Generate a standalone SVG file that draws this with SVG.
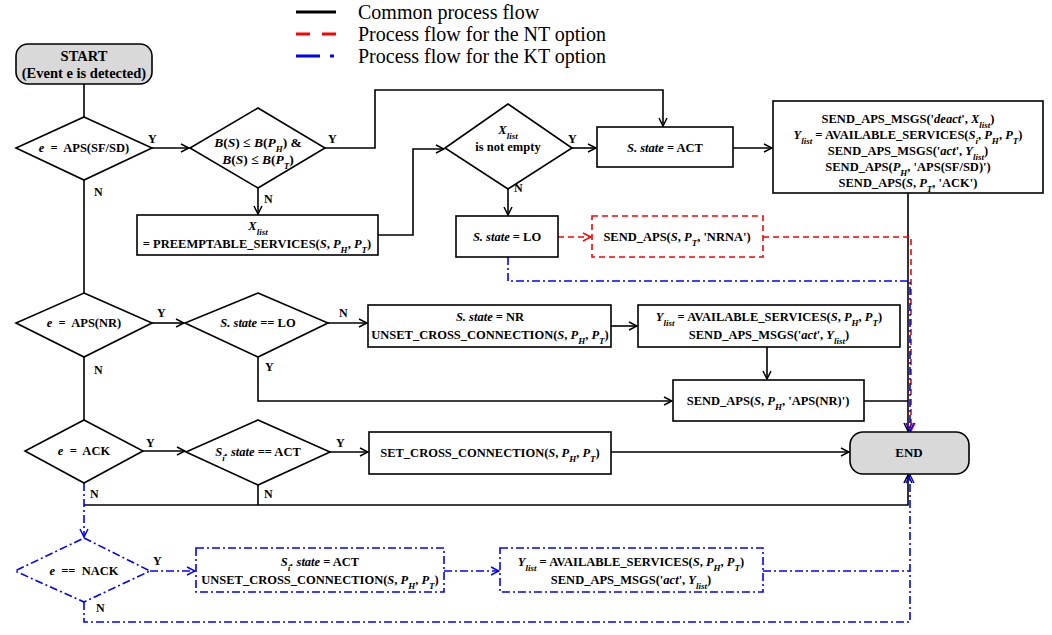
<svg xmlns="http://www.w3.org/2000/svg" width="1052" height="635" viewBox="0 0 1052 635">
<style>
.t{font-family:"Liberation Serif","Times New Roman",serif;font-weight:bold;font-size:12.5px;text-anchor:middle;fill:#000}
.lg{font-family:"Liberation Serif","Times New Roman",serif;font-size:20px;fill:#000}
.i{font-style:italic}
.sub{font-size:9px;baseline-shift:sub}
.lb{font-family:"Liberation Serif","Times New Roman",serif;font-weight:bold;font-size:12px;fill:#000}
.n{fill:#fff;stroke:#000;stroke-width:1.6}
.g{fill:#d9d9d9;stroke:#000;stroke-width:1.6}
.nr{fill:#fff;stroke:#f00;stroke-width:1.6;stroke-dasharray:6,4}
.nb{fill:#fff;stroke:#00f;stroke-width:1.6;stroke-dasharray:8,3,2,3}
.c{fill:none;stroke:#000;stroke-width:1.6}
.r{fill:none;stroke:#f00;stroke-width:1.6;stroke-dasharray:6,4}
.b{fill:none;stroke:#00f;stroke-width:1.6;stroke-dasharray:8,3,2,3}
</style>
<defs>
<marker id="ak" markerWidth="10" markerHeight="10" refX="9" refY="5" orient="auto" markerUnits="userSpaceOnUse"><path d="M1,1 L9,5 L1,9" fill="none" stroke="#000" stroke-width="1.5"/></marker>
<marker id="ar" markerWidth="10" markerHeight="10" refX="9" refY="5" orient="auto" markerUnits="userSpaceOnUse"><path d="M1,1 L9,5 L1,9" fill="none" stroke="#f00" stroke-width="1.5"/></marker>
<marker id="au" markerWidth="10" markerHeight="10" refX="9" refY="5" orient="auto" markerUnits="userSpaceOnUse"><path d="M1,1 L9,5 L1,9" fill="none" stroke="#00f" stroke-width="1.5"/></marker>
</defs>
<rect width="1052" height="635" fill="#fff"/>

<g id="legend">
<line x1="296" y1="12" x2="336" y2="12" stroke="#000" stroke-width="3"/>
<line x1="296" y1="34" x2="338" y2="34" stroke="#f00" stroke-width="3" stroke-dasharray="14,12"/>
<line x1="296" y1="56" x2="334" y2="56" stroke="#00f" stroke-width="3" stroke-dasharray="24,10,4,10"/>
<text class="lg" x="358" y="19">Common process flow</text>
<text class="lg" x="358" y="41">Process flow for the NT option</text>
<text class="lg" x="358" y="63">Process flow for the KT option</text>
</g>

<g id="connectors">
<path class="c" d="M84,84 V117"/>
<path class="c" d="M152,148 H189" marker-end="url(#ak)"/>
<path class="c" d="M325,148 H375 V90 H663 V126" marker-end="url(#ak)"/>
<path class="c" d="M258,188 V214" marker-end="url(#ak)"/>
<path class="c" d="M378,235 H413 V149 H444" marker-end="url(#ak)"/>
<path class="c" d="M572,148 H596" marker-end="url(#ak)"/>
<path class="c" d="M508,189 V215" marker-end="url(#ak)"/>
<path class="c" d="M733,148 H772" marker-end="url(#ak)"/>
<path class="c" d="M908,193 V431" marker-end="url(#ak)"/>
<path class="r" d="M558,237 H591" marker-end="url(#ar)"/>
<path class="r" d="M763,237 H911 V431" marker-end="url(#ar)"/>
<path class="b" d="M508,257 V281 H910 V431" marker-end="url(#au)"/>
<path class="c" d="M84,180 V293"/>
<path class="c" d="M152,323 H184" marker-end="url(#ak)"/>
<path class="c" d="M328,323 H367" marker-end="url(#ak)"/>
<path class="c" d="M258,357 V401 H672" marker-end="url(#ak)"/>
<path class="c" d="M84,357 V420"/>
<path class="c" d="M611,326 H637" marker-end="url(#ak)"/>
<path class="c" d="M767,347 V379" marker-end="url(#ak)"/>
<path class="c" d="M864,401 H908"/>
<path class="c" d="M143,451 H185" marker-end="url(#ak)"/>
<path class="c" d="M330,452 H368" marker-end="url(#ak)"/>
<path class="c" d="M611,452 H849" marker-end="url(#ak)"/>
<path class="c" d="M258,485 V505"/>
<path class="c" d="M84,505 H908 V475" marker-end="url(#ak)"/>
<path class="b" d="M84,483 V537" marker-end="url(#au)"/>
<path class="b" d="M150,571 H195" marker-end="url(#au)"/>
<path class="b" d="M444,571 H499" marker-end="url(#au)"/>
<path class="b" d="M763,571 H910"/>
<path class="b" d="M84,602 V622 H910 V475" marker-end="url(#au)"/>
<text class="lb" x="148" y="143">Y</text>
<text class="lb" x="328" y="143">Y</text>
<text class="lb" x="264" y="203">N</text>
<text class="lb" x="94" y="196">N</text>
<text class="lb" x="568" y="143">Y</text>
<text class="lb" x="514" y="192">N</text>
<text class="lb" x="157" y="317">Y</text>
<text class="lb" x="339" y="317">N</text>
<text class="lb" x="265" y="371">Y</text>
<text class="lb" x="94" y="374">N</text>
<text class="lb" x="146" y="447">Y</text>
<text class="lb" x="336" y="447">Y</text>
<text class="lb" x="90" y="498">N</text>
<text class="lb" x="264" y="498">N</text>
<text class="lb" x="153" y="565">Y</text>
<text class="lb" x="96" y="612">N</text>
</g>

<g id="start">
<rect class="g" x="16" y="44" width="136" height="40" rx="12"/>
<text class="t" x="84" y="61" style="font-size:14.5px">START</text>
<text class="t" x="84" y="78" style="font-size:14.5px">(Event e is detected)</text>
</g>

<g id="d-aps-sfsd">
<polygon class="n" points="84,117 152,148 84,180 16,148"/>
<text class="t" x="84" y="152" xml:space="preserve"><tspan class="i">e</tspan>  =  APS(SF/SD)</text>
</g>

<g id="d-bandwidth">
<polygon class="n" points="258,108 325,148 258,188 190,148"/>
<text class="t" x="258" y="147" style="font-size:13.5px"><tspan class="i">B</tspan>(<tspan class="i">S</tspan>) ≤ <tspan class="i">B</tspan>(<tspan class="i">P</tspan><tspan class="sub i">H</tspan>) &amp;</text>
<text class="t" x="258" y="164" style="font-size:13.5px"><tspan class="i">B</tspan>(<tspan class="i">S</tspan>) ≤ <tspan class="i">B</tspan>(<tspan class="i">P</tspan><tspan class="sub i">T</tspan>)</text>
</g>

<g id="b-preempt">
<rect class="n" x="137" y="215" width="241" height="40"/>
<text class="t" x="258" y="230"><tspan class="i">X</tspan><tspan class="sub i">list</tspan></text>
<text class="t" x="257" y="248">=  PREEMPTABLE_SERVICES(<tspan class="i">S</tspan>, <tspan class="i">P</tspan><tspan class="sub i">H</tspan>, <tspan class="i">P</tspan><tspan class="sub i">T</tspan>)</text>
</g>

<g id="d-xlist">
<polygon class="n" points="508,104 572,148 508,189 445,148"/>
<text class="t" x="508" y="134"><tspan class="i">X</tspan><tspan class="sub i">list</tspan></text>
<text class="t" x="508" y="151">is not empty</text>
</g>

<g id="b-act">
<rect class="n" x="597" y="127" width="136" height="40"/>
<text class="t" x="665" y="152"><tspan class="i">S. state</tspan>  = ACT</text>
</g>

<g id="b-send-aps-sfsd">
<rect class="n" x="773" y="101" width="270" height="92"/>
<text class="t" x="908" y="123">SEND_APS_MSGS('<tspan class="i">deact</tspan>', <tspan class="i">X</tspan><tspan class="sub i">list</tspan>)</text>
<text class="t" x="908" y="139"><tspan class="i">Y</tspan><tspan class="sub i">list</tspan> =  AVAILABLE_SERVICES(<tspan class="i">S</tspan><tspan class="sub i">i</tspan>, <tspan class="i">P</tspan><tspan class="sub i">H</tspan>, <tspan class="i">P</tspan><tspan class="sub i">T</tspan>)</text>
<text class="t" x="908" y="155">SEND_APS_MSGS('<tspan class="i">act</tspan>', <tspan class="i">Y</tspan><tspan class="sub i">list</tspan>)</text>
<text class="t" x="908" y="171">SEND_APS(<tspan class="i">P</tspan><tspan class="sub i">H</tspan>, 'APS(SF/SD)')</text>
<text class="t" x="908" y="187">SEND_APS(<tspan class="i">S</tspan>, <tspan class="i">P</tspan><tspan class="sub i">T</tspan>, 'ACK')</text>
</g>

<g id="b-lo">
<rect class="n" x="456" y="216" width="102" height="41"/>
<text class="t" x="507" y="241"><tspan class="i">S. state</tspan>  = LO</text>
</g>

<g id="b-nrna">
<rect class="nr" x="592" y="216" width="171" height="41"/>
<text class="t" x="677" y="241">SEND_APS(<tspan class="i">S</tspan>, <tspan class="i">P</tspan><tspan class="sub i">T</tspan>, 'NRNA')</text>
</g>

<g id="d-aps-nr">
<polygon class="n" points="84,293 152,323 84,357 16,323"/>
<text class="t" x="84" y="327" xml:space="preserve"><tspan class="i">e</tspan>  =  APS(NR)</text>
</g>

<g id="d-state-lo">
<polygon class="n" points="258,293 328,323 258,357 185,323"/>
<text class="t" x="258" y="327"><tspan class="i">S. state</tspan> == LO</text>
</g>

<g id="b-nr">
<rect class="n" x="368" y="305" width="243" height="42"/>
<text class="t" x="490" y="321"><tspan class="i">S. state</tspan>  = NR</text>
<text class="t" x="490" y="339">UNSET_CROSS_CONNECTION(<tspan class="i">S</tspan>, <tspan class="i">P</tspan><tspan class="sub i">H</tspan>, <tspan class="i">P</tspan><tspan class="sub i">T</tspan>)</text>
</g>

<g id="b-avail-nr">
<rect class="n" x="638" y="305" width="262" height="42"/>
<text class="t" x="769" y="321"><tspan class="i">Y</tspan><tspan class="sub i">list</tspan> =  AVAILABLE_SERVICES(<tspan class="i">S</tspan>, <tspan class="i">P</tspan><tspan class="sub i">H</tspan>, <tspan class="i">P</tspan><tspan class="sub i">T</tspan>)</text>
<text class="t" x="769" y="339">SEND_APS_MSGS('<tspan class="i">act</tspan>', <tspan class="i">Y</tspan><tspan class="sub i">list</tspan>)</text>
</g>

<g id="b-send-aps-nr">
<rect class="n" x="673" y="380" width="191" height="41"/>
<text class="t" x="768" y="405">SEND_APS(<tspan class="i">S</tspan>, <tspan class="i">P</tspan><tspan class="sub i">H</tspan>, 'APS(NR)')</text>
</g>

<g id="d-ack">
<polygon class="n" points="84,420 143,451 84,483 25,451"/>
<text class="t" x="84" y="455" xml:space="preserve"><tspan class="i">e</tspan>  =  ACK</text>
</g>

<g id="d-si-act">
<polygon class="n" points="258,420 330,452 258,485 186,452"/>
<text class="t" x="258" y="456"><tspan class="i">S</tspan><tspan class="sub i">i</tspan><tspan class="i">. state</tspan> == ACT</text>
</g>

<g id="b-set-cc">
<rect class="n" x="369" y="432" width="242" height="42"/>
<text class="t" x="490" y="457">SET_CROSS_CONNECTION(<tspan class="i">S</tspan>, <tspan class="i">P</tspan><tspan class="sub i">H</tspan>, <tspan class="i">P</tspan><tspan class="sub i">T</tspan>)</text>
</g>

<g id="end">
<rect class="g" x="850" y="432" width="119" height="42" rx="13"/>
<text class="t" x="909" y="457" style="font-size:13px">END</text>
</g>

<g id="d-nack">
<polygon class="nb" points="84,538 150,571 84,602 15,571"/>
<text class="t" x="84" y="575" xml:space="preserve"><tspan class="i">e</tspan>  ==  NACK</text>
</g>

<g id="b-nack-act">
<rect class="nb" x="196" y="548" width="248" height="44"/>
<text class="t" x="320" y="566"><tspan class="i">S</tspan><tspan class="sub i">i</tspan><tspan class="i">. state</tspan>  = ACT</text>
<text class="t" x="320" y="584">UNSET_CROSS_CONNECTION(<tspan class="i">S</tspan>, <tspan class="i">P</tspan><tspan class="sub i">H</tspan>, <tspan class="i">P</tspan><tspan class="sub i">T</tspan>)</text>
</g>

<g id="b-nack-avail">
<rect class="nb" x="500" y="548" width="263" height="44"/>
<text class="t" x="631" y="566"><tspan class="i">Y</tspan><tspan class="sub i">list</tspan> = AVAILABLE_SERVICES(<tspan class="i">S</tspan>, <tspan class="i">P</tspan><tspan class="sub i">H</tspan>, <tspan class="i">P</tspan><tspan class="sub i">T</tspan>)</text>
<text class="t" x="631" y="584">SEND_APS_MSGS('<tspan class="i">act</tspan>', <tspan class="i">Y</tspan><tspan class="sub i">list</tspan>)</text>
</g>
</svg>
